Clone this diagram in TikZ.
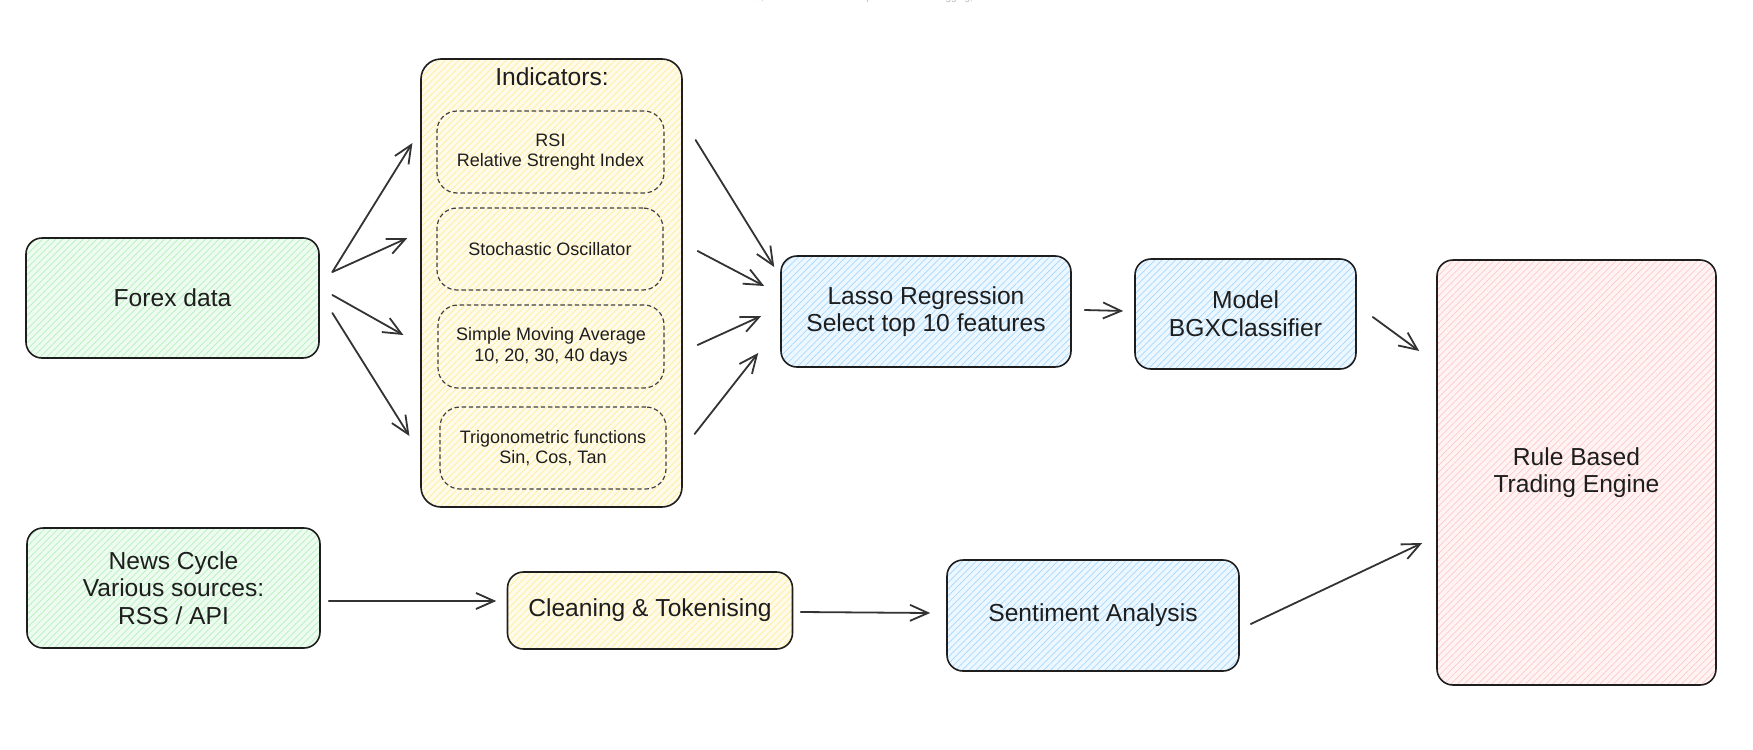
\documentclass[tikz,border=0pt]{standalone}
\usepackage{fontspec}
\setmainfont{Liberation Sans}
\usetikzlibrary{arrows.meta,patterns.meta,calc}
\definecolor{ink}{HTML}{1E1E1E}
\definecolor{arrc}{HTML}{333333}
\definecolor{greenhc}{HTML}{B2F2BB}
\definecolor{greenlt}{HTML}{EEFBF0}
\definecolor{yellowhc}{HTML}{FFEC99}
\definecolor{yellowlt}{HTML}{FFFBEA}
\definecolor{bluehc}{HTML}{A5D8FF}
\definecolor{bluelt}{HTML}{EDF7FF}
\definecolor{pinkhc}{HTML}{FFC9C9}
\definecolor{pinklt}{HTML}{FFF3F3}
\definecolor{hintc}{HTML}{B8B8B8}
\newcommand\lgfont{\fontsize{12.3}{13.8}\selectfont}
\newcommand\smfont{\fontsize{9}{10.3}\selectfont}
\newcommand\hintfont{\fontsize{5}{6}\selectfont}
\tikzset{
  box/.style={draw=ink, line width=0.8pt, rounded corners=8pt, align=center,
    inner sep=0pt, text=ink, font=\lgfont},
  hatch/.style={pattern={Lines[angle=45,distance=2.4pt,line width=0.35pt]}},
  gbox/.style={box, preaction={fill=greenlt}, hatch, pattern color=greenhc},
  ybox/.style={box, preaction={fill=yellowlt}, hatch, pattern color=yellowhc},
  bbox/.style={box, preaction={fill=bluelt}, hatch, pattern color=bluehc},
  pbox/.style={box, preaction={fill=pinklt}, hatch, pattern color=pinkhc},
  inbox/.style={draw=ink!85, line width=0.6pt, dash pattern=on 2.2pt off 1.4pt,
    rounded corners=10pt, align=center, inner sep=0pt, text=ink, font=\smfont},
  titletext/.style={text=ink, font=\lgfont, inner sep=0pt},
  arr/.style={draw=arrc, line width=0.9pt, line cap=round,
    -{Straight Barb[length=9pt,width=8pt]}},
}
\begin{document}
\begin{tikzpicture}[x=0.5pt,y=-0.5pt]
\useasboundingbox[fill=white] (0,0) rectangle (1753,750);

% faint canvas hint (clipped at the top edge)
\node[text=hintc, font=\hintfont, anchor=base, inner sep=0pt] (hint) at (876.5,0.6)
  {To move canvas, hold mouse wheel or spacebar while dragging, or use the hand tool};

% boxes
\node[gbox, minimum width=146.5pt, minimum height=60pt] (forex) at (172.5,298) {Forex data};
\node[gbox, minimum width=146.5pt, minimum height=60pt] (news) at (173.5,588)
  {News Cycle\\Various sources:\\RSS / API};

\node[ybox, rounded corners=10pt, minimum width=130.5pt, minimum height=224pt] (ind) at (551.5,283) {};
\node[titletext] (indt) at (552,77) {Indicators:};
\node[inbox, minimum width=113.5pt, minimum height=41pt] (rsi) at (550.5,152)
  {RSI\\Relative Strenght Index};
\node[inbox, minimum width=113pt, minimum height=41pt] (sto) at (550,249)
  {Stochastic Oscillator};
\node[inbox, minimum width=113pt, minimum height=41.5pt] (sma) at (551,346.5)
  {Simple Moving Average\\10, 20, 30, 40 days};
\node[inbox, minimum width=113pt, minimum height=41pt] (trig) at (553,448)
  {Trigonometric functions\\Sin, Cos, Tan};

\node[bbox, minimum width=145pt, minimum height=55.5pt] (lasso) at (926,311.5)
  {Lasso Regression\\Select top 10 features};
\node[bbox, minimum width=110.5pt, minimum height=55pt] (model) at (1245.5,314)
  {Model\\BGXClassifier};
\node[pbox, minimum width=139.5pt, minimum height=212.5pt] (rule) at (1576.5,472.5)
  {Rule Based\\Trading Engine};
\node[ybox, minimum width=142.5pt, minimum height=38.5pt] (clean) at (650,610.5)
  {Cleaning \& Tokenising};
\node[bbox, minimum width=146pt, minimum height=55.5pt] (sent) at (1093,615.5)
  {Sentiment Analysis};

% connectors: forex -> indicators
\draw[arr] ($(forex.east)+(13,-26)$) -- ($(rsi.west)+(-24,-9)$);
\draw[arr] ($(forex.east)+(13,-26)$) -- ($(sto.west)+(-29,-11)$);
\draw[arr] ($(forex.east)+(13,-3)$) -- ($(sma.west)+(-34,-11.5)$);
\draw[arr] ($(forex.east)+(13,15)$) -- ($(trig.west)+(-30,-12)$);

% indicators -> lasso
\draw[arr] ($(rsi.east)+(31,-12)$) -- ($(lasso.west)+(-6,-44.5)$);
\draw[arr] ($(sto.east)+(34,2)$) -- ($(lasso.west)+(-16,-25.5)$);
\draw[arr] ($(sma.east)+(33,-1.5)$) -- ($(lasso.west)+(-19,4.5)$);
\draw[arr] ($(trig.east)+(28,-14)$) -- ($(lasso.west)+(-22,41.5)$);

% main chain
\draw[arr] ($(lasso.east)+(13,-1.5)$) -- ($(model.west)+(-11,-3)$);
\draw[arr] ($(model.east)+(16,3)$) -- ($(rule.west)+(-17,-121.5)$);

% news chain
\draw[arr] ($(news.east)+(8,13)$) -- ($(clean.west)+(-10.5,-9.5)$);
\draw[arr] ($(clean.east)+(7.5,1.5)$) -- ($(sent.west)+(-16,-2.5)$);
\draw[arr] ($(sent.east)+(11,8.5)$) -- ($(rule.west)+(-14,70.5)$);
\end{tikzpicture}
\end{document}
